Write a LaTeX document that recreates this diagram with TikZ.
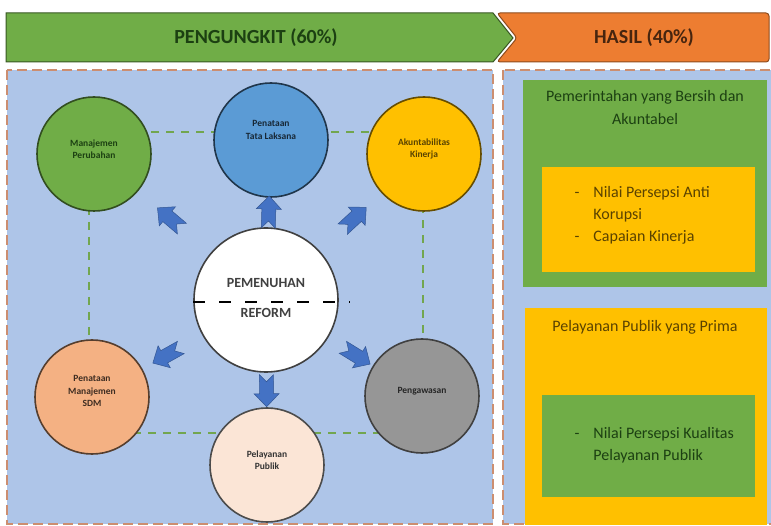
\documentclass[tikz,border=0pt]{standalone}
\usepackage{fontspec}
\setmainfont{Carlito}
\definecolor{barGreen}{RGB}{112,173,71}
\definecolor{barOrange}{RGB}{237,125,49}
\definecolor{panelBlue}{RGB}{174,197,232}
\definecolor{panelEdge}{RGB}{204,142,112}
\definecolor{tataBlue}{RGB}{91,155,213}
\definecolor{kinerjaYellow}{RGB}{255,192,0}
\definecolor{sdmOrange}{RGB}{244,177,131}
\definecolor{publikPeach}{RGB}{251,229,214}
\definecolor{awasGray}{RGB}{150,150,150}
\definecolor{pushBlue}{RGB}{68,114,196}
\definecolor{inkGreen}{RGB}{28,64,18}
\definecolor{inkBrown}{RGB}{90,66,0}
\tikzset{
  pillar/.style={circle, minimum size=114pt, inner sep=0pt, line width=1.6pt},
  pilltext/.style={font=\bfseries\fontsize{9.5}{12.5}\selectfont, align=center},
  linkline/.style={draw=barGreen!85!gray, line width=1.8pt, dash pattern=on 8pt off 7pt},
  panelline/.style={draw=panelEdge, line width=2.2pt, dash pattern=on 10pt off 5pt},
  resultbox/.style={anchor=north west, inner sep=0pt},
  resulttext/.style={font=\fontsize{16}{23}\selectfont, align=center},
  pusharrow/.pic={
    \filldraw[fill=pushBlue, draw=pushBlue!75!black, line width=.5pt]
      (16,0) -- (3,12.5) -- (3,7) -- (-16,7) -- (-9,0) -- (-16,-7) -- (3,-7) -- (3,-12.5) -- cycle;
  }
}
\begin{document}
\begin{tikzpicture}[x=1pt,y=-1pt]
\useasboundingbox (0,0) rectangle (771,526);

\filldraw[fill=barGreen, draw=barGreen!50!black, line width=1pt] (6,13) -- (493,13) -- (513,38) -- (493,62) -- (6,62) -- cycle;
\filldraw[fill=barOrange, draw=barOrange!60!black, line width=1pt, rounded corners=3pt] (497,13) -- (769,13) -- (769,62) -- (497,62) -- (517,38) -- cycle;
\node[font=\bfseries\fontsize{20}{24}\selectfont, text=inkGreen] (pengungkitTitle) at (256,38) {PENGUNGKIT (60\%)};
\node[font=\bfseries\fontsize{20}{24}\selectfont, text=barOrange!30!black] (hasilTitle) at (644,38) {HASIL (40\%)};

\fill[panelBlue] (7,70) rectangle (493,524);
\fill[panelBlue] (503,70) rectangle (775,524);
\draw[panelline] (7,70) rectangle (493,524);
\draw[panelline] (503,70) rectangle (775,524);

\coordinate (frameNW) at (89,132);
\coordinate (frameSE) at (423,433);
\draw[linkline] (frameNW) rectangle (frameSE);

\node[pillar, fill=barGreen, draw=barGreen!45!black] (manajemen) at (94,154) {};
\node[pillar, fill=tataBlue, draw=tataBlue!35!black] (tatalaksana) at (271,140) {};
\node[pillar, fill=kinerjaYellow, draw=kinerjaYellow!40!black] (akuntabilitas) at (424,154) {};
\node[pillar, fill=sdmOrange, draw=sdmOrange!35!black] (sdm) at (92,397) {};
\node[pillar, fill=publikPeach, draw=black!70] (pelayanan) at (267,465) {};
\node[pillar, fill=awasGray, draw=black!75] (pengawasan) at (422,396) {};
\node[circle, minimum size=144pt, inner sep=0pt, line width=1.6pt, fill=white, draw=black!75] (reform) at (266,300) {};

\node[pilltext, text=inkGreen] (manajemenText) at (94,149) {Manajemen\\Perubahan};
\node[pilltext, text=tataBlue!25!black] (tatalaksanaText) at (271,130) {Penataan\\Tata Laksana};
\node[pilltext, text=kinerjaYellow!35!black] (akuntabilitasText) at (424,149) {Akuntabilitas\\Kinerja};
\node[pilltext, text=sdmOrange!25!black] (sdmText) at (92,391) {Penataan\\Manajemen\\SDM};
\node[pilltext, text=black!80] (pelayananText) at (267,460) {Pelayanan\\Publik};
\node[pilltext, text=black!85] (pengawasanText) at (422,391) {Pengawasan};

\node[font=\bfseries\fontsize{14}{16}\selectfont, text=black!75] (reformTop) at (266,283) {PEMENUHAN};
\node[font=\bfseries\fontsize{14}{16}\selectfont, text=black!75] (reformBottom) at (266,313) {REFORM};
\coordinate (cutEnd) at (350,302);
\draw[line width=2.4pt, dash pattern=on 12pt off 14pt] (reform.west |- cutEnd) -- (cutEnd);

\path (reform.center) -- (manajemen.center) pic[pos=.56, sloped, allow upside down] {pusharrow};
\path (reform.center) -- (tatalaksana.center) pic[pos=.55, sloped, allow upside down] {pusharrow};
\path (reform.center) -- (akuntabilitas.center) pic[pos=.56, sloped, allow upside down] {pusharrow};
\path (reform.center) -- (sdm.center) pic[pos=.57, sloped, allow upside down] {pusharrow};
\path (reform.center) -- (pelayanan.center) pic[pos=.55, sloped, allow upside down] {pusharrow};
\path (reform.center) -- (pengawasan.center) pic[pos=.58, sloped, allow upside down] {pusharrow};

\node[resultbox, fill=barGreen, minimum width=244pt, minimum height=207pt] (bersihBox) at (523,80) {};
\node[resultbox, fill=kinerjaYellow, minimum width=213pt, minimum height=105pt] (bersihInner) at (542,167) {};
\node[resulttext, text=inkGreen] (bersihTitle) at (645,108) {Pemerintahan yang Bersih dan\\Akuntabel};
\node[anchor=west, font=\fontsize{16}{22}\selectfont, text=inkBrown] (bersihList) at (571,215.5)
  {\begin{tabular}{@{}l@{\hspace{14pt}}l@{}}- & Nilai Persepsi Anti\\ & Korupsi\\- & Capaian Kinerja\end{tabular}};

\node[resultbox, fill=kinerjaYellow, minimum width=242pt, minimum height=217pt] (primaBox) at (525,308) {};
\node[resultbox, fill=barGreen, minimum width=213pt, minimum height=102pt] (primaInner) at (542,395) {};
\node[resulttext, text=inkBrown] (primaTitle) at (645,327) {Pelayanan Publik yang Prima};
\node[anchor=west, font=\fontsize{16}{22}\selectfont, text=inkGreen] (primaList) at (571,445)
  {\begin{tabular}{@{}l@{\hspace{14pt}}l@{}}- & Nilai Persepsi Kualitas\\ & Pelayanan Publik\end{tabular}};
\end{tikzpicture}
\end{document}
